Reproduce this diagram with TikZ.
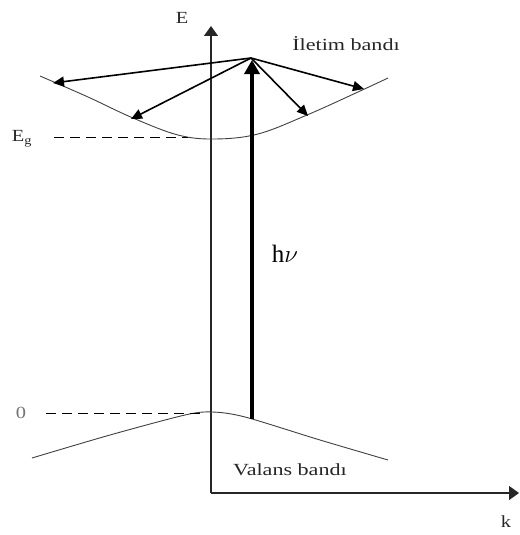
\documentclass[tikz,border=0pt]{standalone}
\usepackage{fontspec}
\setmainfont{Liberation Serif}
\usetikzlibrary{arrows.meta}
\begin{document}
\begin{tikzpicture}[x=1pt,y=-1pt,
  axis/.style={line width=1.1pt,draw=black!85,-{Triangle[length=10pt,width=14pt]}},
  band/.style={line width=0.9pt,draw=black!75},
  scat/.style={line width=1.6pt,-{Triangle[length=11pt,width=10pt]}},
  photon/.style={line width=3.6pt,-{Triangle[length=14pt,width=15pt]}},
  lvl/.style={dashed,line width=0.9pt,dash pattern=on 10pt off 6pt},
  lbl/.style={font=\fontsize{17}{19}\selectfont,inner sep=0pt,text=black!85}]
\useasboundingbox (0,0) rectangle (519,535);
% axes
\coordinate (O) at (211,493);
\coordinate (Etop) at (211,26);
\coordinate (Kend) at (519,493);
\draw[axis] (O) -- (Etop);
\draw[axis] (O) -- (Kend);
\node[lbl] (E) at (182,18) {\scalebox{1.2}[1]{E}};
\node[lbl] (k) at (506,522) {\scalebox{1.2}[1]{k}};
% conduction band
\draw[band] plot[smooth,tension=0.6] coordinates {(40,76) (88,97) (133,118) (178,135) (215,139) (258,134) (307,115) (358,92) (388,78)};
% valence band
\draw[band] plot[smooth,tension=0.5] coordinates {(32,458) (110,435) (185,415) (212,412) (245,417) (320,440) (388,460)};
% levels
\coordinate (EgL) at (54,137);
\coordinate (EgR) at (188,137);
\draw[lvl] (EgL) -- (EgR);
\node[lbl] (Eg) at (22,139) {\scalebox{1.2}[1]{E\textsubscript{g}}};
\coordinate (ZL) at (46,413);
\coordinate (ZR) at (205,413);
\draw[lvl] (ZL) -- (ZR);
\node[lbl,text=black!55] (Z) at (21,413) {\scalebox{1.2}[1]{0}};
% photon
\coordinate (VB) at (252,419);
\coordinate (CBtop) at (252,60);
\draw[photon] (VB) -- (CBtop);
\node[font=\fontsize{25}{27}\selectfont,inner sep=0pt] (hv) at (285,254) {h$\nu$};
% scattering
\coordinate (S) at (251,58);
\coordinate (A1) at (53,83);
\coordinate (A2) at (131,119);
\coordinate (A3) at (308,116);
\coordinate (A4) at (364,89);
\draw[scat] (S) -- (A1);
\draw[scat] (S) -- (A2);
\draw[scat] (S) -- (A3);
\draw[scat] (S) -- (A4);
% labels
\node[lbl] (cb) at (346,44) {\scalebox{1.3}[1]{İletim bandı}};
\node[lbl] (vb) at (290,470) {\scalebox{1.3}[1]{Valans bandı}};
\end{tikzpicture}
\end{document}
